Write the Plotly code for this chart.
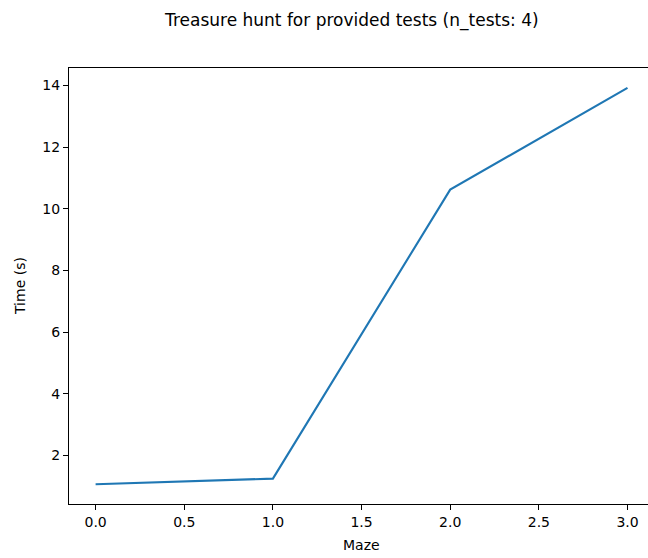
import plotly.graph_objects as go

maze = [0, 1, 2, 3]
time_s = [1.07, 1.25, 10.62, 13.92]
x_ticks = [0.0, 0.5, 1.0, 1.5, 2.0, 2.5, 3.0]
y_ticks = [2, 4, 6, 8, 10, 12, 14]

W, H = 648, 558
L, R, T, B = 69, 0, 68, 54

ymin, ymax = min(time_s), max(time_s)
ym = (ymax - ymin) * 0.05
px_per_unit = 177.3
x0 = -0.15
x1 = x0 + (W - L - R) / px_per_unit

fig = go.Figure()
fig.add_trace(go.Scatter(x=maze, y=time_s, mode="lines",
                         line=dict(color="#1f77b4", width=2.1)))

font = dict(family="DejaVu Sans", size=14, color="black")
fig.update_layout(
    width=W, height=H,
    margin=dict(l=L, r=R, t=T, b=B),
    paper_bgcolor="white", plot_bgcolor="white",
    showlegend=False,
    font=font,
    xaxis=dict(range=[x0, x1], tickvals=x_ticks, ticktext=[f"{v:.1f}" for v in x_ticks],
               showgrid=False, zeroline=False, showline=True, linecolor="black",
               linewidth=1, mirror=True, ticks="outside", ticklen=5, tickcolor="black",
               tickwidth=1, tickfont=font),
    yaxis=dict(range=[ymin - ym, ymax + ym], tickvals=y_ticks,
               showgrid=False, zeroline=False, showline=True, linecolor="black",
               linewidth=1, ticks="outside", ticklen=5, tickcolor="black",
               tickwidth=1, tickfont=font),
    annotations=[
        dict(text="Treasure hunt for provided tests (n_tests: 4)", xref="paper", yref="paper",
             x=(351 - L) / (W - L - R), y=1 + (T - 20) / (H - T - B), showarrow=False,
             font=dict(family="DejaVu Sans", size=17, color="black"),
             xanchor="center", yanchor="middle"),
        dict(text="Maze", xref="paper", yref="paper",
             x=(361 - L) / (W - L - R), y=-(545 - (H - B)) / (H - T - B), showarrow=False,
             font=font, xanchor="center", yanchor="middle"),
        dict(text="Time (s)", xref="paper", yref="paper",
             x=-(L - 20) / (W - L - R), y=0.5, showarrow=False, textangle=-90,
             font=font, xanchor="center", yanchor="middle"),
    ],
)

fig.write_html("out.html", config={"displayModeBar": False},
               post_script="document.body.style.margin='0';document.body.style.padding='0';document.body.style.overflow='hidden';")
